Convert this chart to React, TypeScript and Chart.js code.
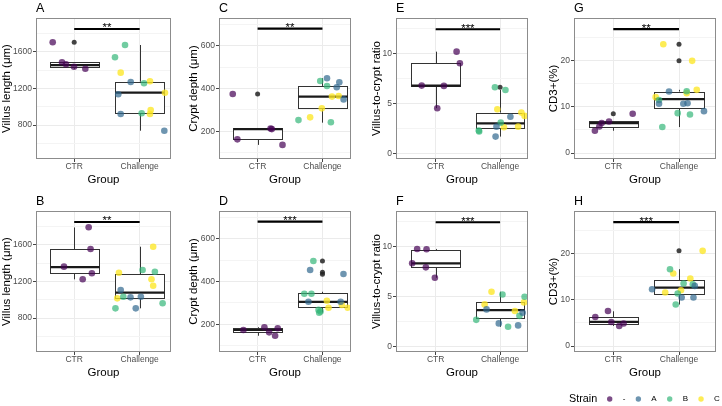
import React, { useEffect, useRef } from 'react';
import { Chart, registerables } from 'chart.js';

Chart.register(...registerables);

const FONT = '"Liberation Sans", Arial, Helvetica, sans-serif';

// ---------- categories / legend ----------
const groups = ['CTR', 'Challenge'];
const strains = ['-', 'A', 'B', 'C'];
const strainColors = ['rgba(68,1,84,0.7)', 'rgba(49,104,142,0.7)', 'rgba(53,183,121,0.7)', 'rgba(253,231,37,0.78)'];

// ---------- measures ----------
const measureTitles = ['Villus length (μm)', 'Crypt depth (μm)', 'Villus-to-crypt ratio', 'CD3+(%)'];
const yLimits = [[430, 1970], [70, 730], [-0.58, 13.58], [-1.3, 29.3]];
const yMajorTicks = [[800, 1200, 1600], [200, 400, 600], [0, 5, 10], [0, 10, 20]];
const yMinorTicks = [[600, 1000, 1400, 1800], [100, 300, 500, 700], [2.5, 7.5, 12.5], [5, 15, 25]];
const sigBarHeights = [1850, 680, 12.45, 26.9];

// ---------- points: [strain index, jittered group position, value] ----------
const villusPtsA = [
  [0, 0.672, 1705], [0, 0.814, 1486], [0, 0.875, 1464], [0, 0.997, 1438], [0, 1.17, 1416],
  [2, 1.776, 1675], [2, 1.623, 1541], [2, 2.066, 1257], [2, 2.03, 929],
  [3, 1.71, 1373], [3, 2.157, 1279], [3, 2.386, 1154], [3, 2.168, 965], [3, 2.157, 921],
  [1, 1.863, 1271], [1, 1.673, 1137], [1, 1.71, 921], [1, 2.376, 739],
];
const villusPtsB = [
  [0, 1.221, 1792], [0, 1.25, 1555], [0, 0.844, 1362], [0, 1.27, 1290], [0, 1.13, 1224],
  [3, 2.206, 1580], [3, 1.683, 1296], [3, 2.18, 1224], [3, 2.206, 1154], [3, 1.657, 1016],
  [2, 2.044, 1326], [2, 2.232, 1307], [2, 1.75, 1034], [2, 1.63, 907], [2, 2.35, 962],
  [1, 1.71, 1107], [1, 1.86, 1027], [1, 2.018, 1034], [1, 1.94, 907],
];
const cryptPtsC = [
  [0, 0.617, 374], [0, 0.688, 162], [0, 1.219, 210], [0, 1.2, 213], [0, 1.384, 136],
  [2, 1.966, 435], [2, 2.07, 412], [2, 1.63, 252], [2, 2.13, 242],
  [1, 2.07, 448], [1, 2.26, 429], [1, 2.22, 406], [1, 2.326, 349],
  [3, 2.147, 362], [3, 2.25, 365], [3, 1.99, 307], [3, 1.81, 265],
];
const cryptPtsD = [
  [0, 0.781, 173], [0, 1.105, 186], [0, 1.178, 162], [0, 1.31, 181], [0, 1.27, 146],
  [2, 1.86, 496], [2, 1.72, 343], [2, 1.83, 343], [2, 1.94, 267], [2, 1.95, 254], [2, 1.97, 260],
  [1, 1.81, 454], [1, 2.324, 435], [1, 1.784, 305], [1, 2.28, 305],
  [3, 2.068, 310], [3, 2.094, 277], [3, 2.3, 290], [3, 2.39, 277],
];
const ratioPtsE = [
  [0, 1.325, 10.2], [0, 1.376, 9.03], [0, 0.783, 6.79], [0, 1.128, 6.76], [0, 1.025, 4.52],
  [2, 1.92, 6.62], [2, 2.083, 6.35], [2, 2.01, 3.07], [2, 1.67, 2.27], [2, 1.675, 2.18],
  [3, 1.957, 4.42], [3, 2.33, 4.08], [3, 2.38, 3.75], [3, 2.06, 2.61], [3, 2.28, 2.67],
  [1, 2.16, 3.67], [1, 1.944, 2.67], [1, 1.93, 1.67],
];
const ratioPtsF = [
  [0, 0.713, 9.77], [0, 0.859, 9.74], [0, 0.636, 8.33], [0, 0.848, 7.92], [0, 0.988, 6.88],
  [3, 1.867, 5.47], [3, 2.37, 4.4], [3, 1.76, 4.2], [3, 2.23, 3.53],
  [2, 2.037, 5.2], [2, 2.38, 4.97], [2, 2.3, 3.05], [2, 1.63, 2.65], [2, 2.124, 1.95],
  [1, 1.79, 3.7], [1, 2.35, 3.36], [1, 1.98, 2.29], [1, 2.28, 2.09],
];
const cd3PtsG = [
  [0, 1.295, 8.51], [0, 0.935, 6.85], [0, 0.823, 6.5], [0, 0.788, 5.76], [0, 0.72, 4.83],
  [3, 1.761, 23.6], [3, 2.2, 20], [3, 2.27, 13.71], [3, 2.117, 12.99], [3, 1.645, 12.12],
  [1, 1.848, 13.34], [1, 1.696, 10.68], [1, 2.066, 10.68], [1, 2.13, 10.8], [1, 2.38, 9.08],
  [2, 2.117, 13.4], [2, 1.696, 11.5], [2, 1.98, 8.65], [2, 2.167, 8.35], [2, 1.746, 5.63],
];
const cd3PtsH = [
  [0, 0.919, 7.61], [0, 0.726, 6.3], [0, 0.97, 5.22], [0, 1.157, 4.87], [0, 1.09, 4.35],
  [3, 2.36, 20.65], [3, 1.913, 15.74], [3, 2.172, 14.65], [3, 2.03, 12.11], [3, 1.79, 11.6],
  [2, 1.863, 16.67], [2, 2.07, 13.56], [2, 2.21, 13.41], [2, 1.98, 11.39], [2, 1.95, 9.0],
  [1, 2.24, 13.04], [1, 1.59, 12.33], [1, 2.04, 10.52], [1, 2.22, 10.52],
];

// ---------- box statistics per group: [lower whisker, q1, median, q3, upper whisker] ----------
const villusBoxA = [[1416, 1438, 1455, 1486, 1486], [739, 929, 1154, 1274, 1675]];
const villusBoxB = [[1224, 1290, 1358, 1555, 1790], [907, 1016, 1078, 1279, 1580]];
const cryptBoxC = [[136, 162, 210, 213, 213], [240, 307, 362, 412, 448]];
const cryptBoxD = [[146, 162, 173, 181, 186], [254, 279, 305, 345, 352]];
const ratioBoxE = [[4.52, 6.76, 6.79, 9.03, 10.2], [1.67, 2.57, 3.0, 4.08, 6.35]];
const ratioBoxF = [[6.88, 7.92, 8.33, 9.67, 9.77], [1.95, 2.79, 3.63, 4.4, 5.47]];
const cd3BoxG = [[4.83, 5.63, 6.5, 6.85, 6.85], [5.63, 9.75, 11.68, 13.34, 13.71]];
const cd3BoxH = [[4.35, 4.87, 5.22, 6.24, 7.54], [9.0, 11.39, 12.67, 14.28, 16.67]];

// ---------- boxplot outliers: [group position, value] ----------
const villusOutA = [[1, 1705]];
const villusOutB: number[][] = [];
const cryptOutC = [[1, 374]];
const cryptOutD = [[2, 496], [2, 443], [2, 434]];
const ratioOutE = [[2, 6.62]];
const ratioOutF: number[][] = [];
const cd3OutG = [[1, 8.51], [2, 23.6], [2, 20]];
const cd3OutH = [[2, 20.65]];

// ---------- panels ----------
const panelLetters = ['A', 'B', 'C', 'D', 'E', 'F', 'G', 'H'];
const sigLabels = ['**', '**', '**', '***', '***', '***', '**', '***'];
const panelPoints = [villusPtsA, villusPtsB, cryptPtsC, cryptPtsD, ratioPtsE, ratioPtsF, cd3PtsG, cd3PtsH];
const panelBoxes = [villusBoxA, villusBoxB, cryptBoxC, cryptBoxD, ratioBoxE, ratioBoxF, cd3BoxG, cd3BoxH];
const panelOutliers = [villusOutA, villusOutB, cryptOutC, cryptOutD, ratioOutE, ratioOutF, cd3OutG, cd3OutH];

// ---------- layout (geometry only) ----------
const COLS = [
  { cx: 0, cw: 180, pl: 36, pr: 171, xmin: 0.417, xmax: 2.478, titleX: 7 },
  { cx: 180, cw: 181, pl: 219, pr: 351, xmin: 0.405, xmax: 2.44, titleX: 194 },
  { cx: 361, cw: 180, pl: 396, pr: 528, xmin: 0.385, xmax: 2.433, titleX: 376.5 },
  { cx: 541, cw: 181, pl: 574, pr: 716, xmin: 0.402, xmax: 2.563, titleX: 554 },
];
const ROWS = [
  { ry: 0, rh: 193, pt: 18, pb: 159, groupY: 180 },
  { ry: 193, rh: 213, pt: 211, pb: 352, groupY: 372.5 },
];
const TITLE_SIZE = 11.5;
const LEGEND_TITLE_SIZE = 10.8;
const TICK_SIZE = 8.5;
const BOX_HALF = 0.375;
const LEGEND_TITLE_X = 569;
const LEGEND_Y = 399;

function makeChart(canvas: HTMLCanvasElement, idx: number) {
  const colI = Math.floor(idx / 2);
  const rowI = idx % 2;
  const col = COLS[colI];
  const row = ROWS[rowI];
  const m = colI;
  const pts = panelPoints[idx];
  const box = panelBoxes[idx];
  const outs = panelOutliers[idx];
  const lhT = TITLE_SIZE * 1.2;
  const yw = col.pl - col.cx;
  const scaleBottom = row.groupY + lhT / 2;
  const xh = scaleBottom - row.pb;
  const padBottom = row.ry + row.rh - scaleBottom;
  const padTop = row.pt - row.ry;
  const padRight = col.cx + col.cw - col.pr;
  const yTitlePad = col.titleX - col.cx - lhT / 2;
  const majors = yMajorTicks[m];
  const allTicks = [...majors, ...yMinorTicks[m]].sort((a, b) => a - b);
  const isMajor = (v: any) => majors.includes(v);
  const showLegend = idx === 7;

  const datasets: any[] = strains.map((s, si) => ({
    label: s,
    data: pts.filter((q) => q[0] === si).map((q) => ({ x: q[1], y: q[2] })),
    backgroundColor: strainColors[si],
    borderWidth: 0,
    pointRadius: 3.3,
    pointHoverRadius: 3.3,
    order: 0,
  }));
  datasets.push({
    label: 'outlier',
    data: outs.map((q) => ({ x: q[0], y: q[1] })),
    backgroundColor: 'rgba(35,35,35,0.85)',
    borderWidth: 0,
    pointRadius: 2.5,
    pointHoverRadius: 2.5,
    order: 1,
  });

  const deco = {
    id: 'deco' + idx,
    beforeDatasetsDraw(chart: any) {
      const { ctx, chartArea: a, scales } = chart;
      const x = scales.x, y = scales.y;
      ctx.save();
      ctx.beginPath();
      ctx.rect(a.left, a.top, a.right - a.left, a.bottom - a.top);
      ctx.clip();
      box.forEach((b, i) => {
        const c = x.getPixelForValue(i + 1);
        const half = x.getPixelForValue(i + 1 + BOX_HALF) - c;
        const [lo, q1, med, q3, hi] = b.map((v) => y.getPixelForValue(v));
        const cx = Math.round(c) + 0.5;
        ctx.strokeStyle = '#333333';
        ctx.lineWidth = 1;
        ctx.beginPath();
        ctx.moveTo(cx, lo); ctx.lineTo(cx, q1);
        ctx.moveTo(cx, q3); ctx.lineTo(cx, hi);
        ctx.stroke();
        const l = Math.round(c - half) + 0.5, r = Math.round(c + half) + 0.5;
        const t = Math.round(q3) + 0.5, bt = Math.round(q1) + 0.5;
        ctx.fillStyle = '#ffffff';
        ctx.fillRect(l, t, r - l, bt - t);
        ctx.strokeRect(l, t, r - l, bt - t);
        ctx.lineWidth = 2.2;
        ctx.strokeStyle = '#1a1a1a';
        ctx.beginPath();
        ctx.moveTo(l, med); ctx.lineTo(r, med);
        ctx.stroke();
      });
      ctx.restore();
    },
    afterDatasetsDraw(chart: any) {
      const { ctx, chartArea: a, scales } = chart;
      const x = scales.x, y = scales.y;
      ctx.save();
      // panel border
      ctx.strokeStyle = '#8c8c8c';
      ctx.lineWidth = 1;
      const L = Math.round(a.left) + 0.5, T = Math.round(a.top) + 0.5;
      ctx.strokeRect(L, T, Math.round(a.right) - Math.round(a.left) - 1, Math.round(a.bottom) - Math.round(a.top) - 1);
      // significance bar
      const sy = y.getPixelForValue(sigBarHeights[m]);
      const x1 = x.getPixelForValue(1), x2 = x.getPixelForValue(2);
      ctx.strokeStyle = '#000000';
      ctx.lineWidth = 2.2;
      ctx.beginPath();
      ctx.moveTo(x1, sy); ctx.lineTo(x2, sy);
      ctx.stroke();
      ctx.fillStyle = '#000000';
      ctx.font = `11.5px ${FONT}`;
      ctx.textAlign = 'center';
      ctx.textBaseline = 'alphabetic';
      ctx.fillText(sigLabels[idx], (x1 + x2) / 2, sy + 2.5);
      ctx.restore();
    },
    afterDraw(chart: any) {
      const { ctx, chartArea: a } = chart;
      ctx.save();
      ctx.fillStyle = '#000000';
      ctx.font = `12.5px ${FONT}`;
      ctx.textAlign = 'left';
      ctx.textBaseline = 'alphabetic';
      ctx.fillText(panelLetters[idx], a.left, a.top - 6);
      if (showLegend) {
        const ly = LEGEND_Y - row.ry;
        ctx.textBaseline = 'middle';
        ctx.font = `${LEGEND_TITLE_SIZE}px ${FONT}`;
        const tx = LEGEND_TITLE_X - col.cx;
        ctx.fillText('Strain', tx, ly);
        let ks = tx + ctx.measureText('Strain').width + 4;
        ctx.font = `8px ${FONT}`;
        strains.forEach((s, si) => {
          ctx.fillStyle = strainColors[si];
          ctx.beginPath();
          ctx.arc(ks + 8.5, ly, 2.7, 0, Math.PI * 2);
          ctx.fill();
          ctx.fillStyle = '#000000';
          const lx = ks + 21.5;
          ctx.fillText(s, lx, ly);
          ks = lx + ctx.measureText(s).width + 4.5;
        });
      }
      ctx.restore();
    },
  };

  return new Chart(canvas, {
    type: 'scatter',
    data: { datasets },
    plugins: [deco],
    options: {
      responsive: false,
      animation: false,
      devicePixelRatio: 1,
      events: [],
      layout: { padding: { left: 0, right: padRight, top: padTop, bottom: padBottom } },
      plugins: { legend: { display: false }, tooltip: { enabled: false }, title: { display: false } },
      scales: {
        x: {
          type: 'linear',
          position: 'bottom',
          min: col.xmin,
          max: col.xmax,
          afterBuildTicks: (s: any) => { s.ticks = [{ value: 1 }, { value: 2 }]; },
          afterFit: (s: any) => { s.height = xh; },
          ticks: {
            callback: (v: any) => groups[Math.round(v) - 1],
            font: { family: FONT, size: TICK_SIZE },
            color: '#4d4d4d',
            padding: 0,
            maxRotation: 0,
            autoSkip: false,
          },
          grid: { color: '#ebebeb', lineWidth: 1, tickLength: 3, tickColor: '#444444' },
          border: { display: false },
          title: { display: true, text: 'Group', font: { family: FONT, size: TITLE_SIZE }, color: '#000000', padding: 0 },
        },
        y: {
          type: 'linear',
          position: 'left',
          min: yLimits[m][0],
          max: yLimits[m][1],
          afterBuildTicks: (s: any) => { s.ticks = allTicks.map((v) => ({ value: v })); },
          afterFit: (s: any) => { s.width = yw; },
          ticks: {
            callback: (v: any) => (isMajor(v) ? String(v) : ''),
            font: { family: FONT, size: TICK_SIZE },
            color: '#4d4d4d',
            padding: 1,
            autoSkip: false,
          },
          grid: {
            color: (c: any) => (isMajor(c.tick && c.tick.value) ? '#ebebeb' : '#f4f4f4'),
            lineWidth: 1,
            tickLength: 3,
            tickColor: (c: any) => (isMajor(c.tick && c.tick.value) ? '#444444' : 'rgba(0,0,0,0)'),
          },
          border: { display: false },
          title: {
            display: true,
            text: measureTitles[m],
            font: { family: FONT, size: TITLE_SIZE },
            color: '#000000',
            padding: { top: yTitlePad, bottom: 0 },
          },
        },
      },
    } as any,
  });
}

function Panel({ idx }: { idx: number }) {
  const ref = useRef<HTMLCanvasElement | null>(null);
  const col = COLS[Math.floor(idx / 2)];
  const row = ROWS[idx % 2];
  useEffect(() => {
    if (!ref.current) return;
    const chart = makeChart(ref.current, idx);
    return () => chart.destroy();
  }, [idx]);
  return (
    <canvas
      ref={ref}
      width={col.cw}
      height={row.rh}
      style={{ position: 'absolute', left: col.cx, top: row.ry, width: col.cw, height: row.rh, display: 'block' }}
    />
  );
}

export default function App() {
  return (
    <div style={{ position: 'fixed', left: 0, top: 0, width: 722, height: 406, background: '#ffffff', overflow: 'hidden' }}>
      {panelLetters.map((_, i) => (
        <Panel key={i} idx={i} />
      ))}
    </div>
  );
}
